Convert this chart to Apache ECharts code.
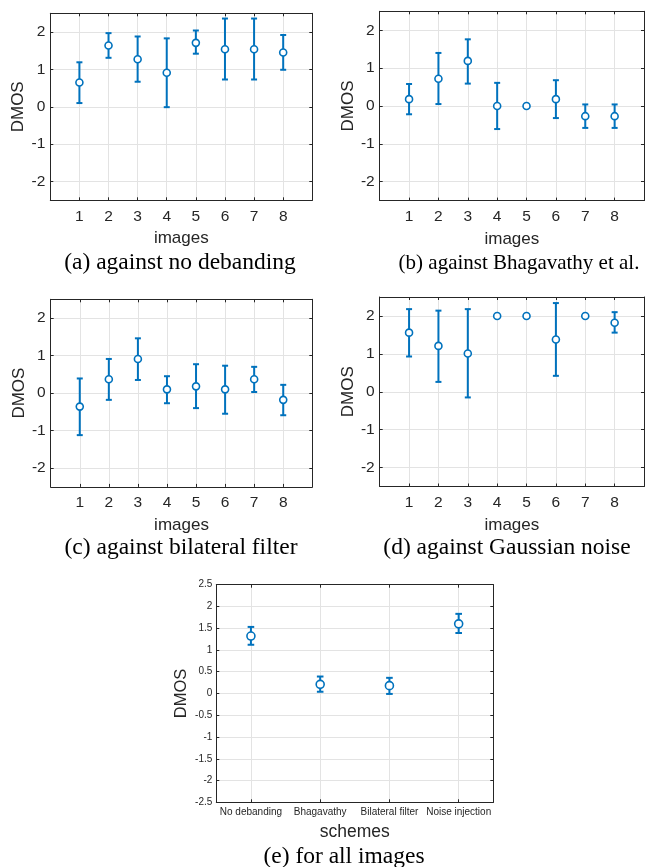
<!DOCTYPE html>
<html>
<head>
<meta charset="utf-8">
<script src="https://cdn.jsdelivr.net/npm/echarts@6/dist/echarts.min.js"></script>
<style>
  html, body { margin: 0; padding: 0; background: #ffffff; }
  #chart { width: 652px; height: 867px; }
</style>
</head>
<body>
<div id="chart"></div>
<script>
// Image indices used in the per-comparison panels
const imageIds = [1, 2, 3, 4, 5, 6, 7, 8];
const imageTicks = [1, 2, 3, 4, 5, 6, 7, 8];
const dmosTicks = [-2, -1, 0, 1, 2];

// (a) against no debanding: mean DMOS with lower / upper interval bounds
const meanNoDeband = [0.65, 1.64, 1.27, 0.91, 1.71, 1.54, 1.54, 1.45];
const lowNoDeband  = [0.10, 1.31, 0.67, -0.01, 1.42, 0.73, 0.73, 0.99];
const highNoDeband = [1.19, 1.97, 1.88, 1.83, 2.04, 2.36, 2.36, 1.92];

// (b) against Bhagavathy et al.
const meanBhag = [0.18, 0.72, 1.19, 0.00, 0.00, 0.18, -0.27, -0.27];
const lowBhag  = [-0.22, 0.05, 0.59, -0.61, 0.00, -0.32, -0.58, -0.58];
const highBhag = [0.58, 1.40, 1.76, 0.61, 0.00, 0.68, 0.04, 0.04];

// (c) against bilateral filter
const meanBilat = [-0.36, 0.37, 0.91, 0.10, 0.18, 0.10, 0.37, -0.18];
const lowBilat  = [-1.12, -0.18, 0.35, -0.27, -0.40, -0.55, 0.03, -0.59];
const highBilat = [0.39, 0.91, 1.46, 0.45, 0.77, 0.73, 0.70, 0.22];

// (d) against Gaussian noise
const meanGauss = [1.56, 1.21, 1.01, 2.00, 2.00, 1.38, 2.00, 1.82];
const lowGauss  = [0.93, 0.26, -0.15, 2.00, 2.00, 0.42, 2.00, 1.56];
const highGauss = [2.18, 2.14, 2.18, 2.00, 2.00, 2.34, 2.00, 2.10];

// (e) for all images, per scheme
const schemes = ['No debanding', 'Bhagavathy', 'Bilateral filter', 'Noise injection'];
const schemeIds = [1, 2, 3, 4];
const meanAll = [1.32, 0.21, 0.18, 1.60];
const lowAll  = [1.12, 0.04, -0.01, 1.39];
const highAll = [1.53, 0.39, 0.36, 1.83];

const BLUE = '#0072BD';
const INK = '#262626';
const GRIDLINE = '#e3e3e3';
const SANS = '"Liberation Sans", Arial, Helvetica, sans-serif';
const SERIF = '"Liberation Serif", "Times New Roman", serif';

function errorBars(capHalf) {
  return function (params, api) {
    const x = api.value(0);
    const lo = api.coord([x, api.value(1)]);
    const hi = api.coord([x, api.value(2)]);
    const style = { stroke: BLUE, lineWidth: 2, fill: null };
    return {
      type: 'group',
      children: [
        { type: 'line', shape: { x1: lo[0], y1: lo[1], x2: hi[0], y2: hi[1] }, style: style },
        { type: 'line', shape: { x1: lo[0] - capHalf, y1: lo[1], x2: lo[0] + capHalf, y2: lo[1] }, style: style },
        { type: 'line', shape: { x1: hi[0] - capHalf, y1: hi[1], x2: hi[0] + capHalf, y2: hi[1] }, style: style }
      ]
    };
  };
}

const grids = [], xAxes = [], yAxes = [], series = [], texts = [];

function addPanel(cfg) {
  const gi = grids.length;
  grids.push(Object.assign({ containLabel: false, show: false }, cfg.grid));

  const tick = { show: true, inside: true, length: 3, lineStyle: { color: INK, width: 1 } };
  const line = { show: true, onZero: false, lineStyle: { color: INK, width: 1 } };
  const split = { show: true, lineStyle: { color: GRIDLINE, width: 1 } };

  // bottom x axis
  xAxes.push({
    gridIndex: gi, type: 'value', position: 'bottom',
    min: cfg.xMin, max: cfg.xMax,
    axisLine: line,
    axisTick: Object.assign({ customValues: cfg.xTicks }, tick),
    splitLine: split,
    axisLabel: {
      customValues: cfg.xTicks, margin: cfg.xLabelMargin, color: INK,
      fontFamily: SANS, fontSize: cfg.tickFont,
      formatter: cfg.xFormatter
    },
    name: cfg.xName, nameLocation: 'middle', nameGap: cfg.xNameGap,
    nameTextStyle: { color: INK, fontFamily: SANS, fontSize: cfg.nameFontX }
  });
  // top x axis (box edge with inward ticks)
  xAxes.push({
    gridIndex: gi, type: 'value', position: 'top',
    min: cfg.xMin, max: cfg.xMax,
    axisLine: line,
    axisTick: Object.assign({ customValues: cfg.xTicks }, tick),
    splitLine: { show: false },
    axisLabel: { show: false }
  });
  // left y axis
  yAxes.push({
    gridIndex: gi, type: 'value', position: 'left',
    min: cfg.yMin, max: cfg.yMax,
    axisLine: line,
    axisTick: Object.assign({ customValues: cfg.yTicks }, tick),
    splitLine: split,
    axisLabel: {
      customValues: cfg.yTicks, margin: cfg.yLabelMargin, color: INK,
      fontFamily: SANS, fontSize: cfg.tickFont
    },
    name: 'DMOS', nameLocation: 'middle', nameGap: cfg.yNameGap, nameRotate: 90,
    nameTextStyle: { color: INK, fontFamily: SANS, fontSize: cfg.nameFontY }
  });
  // right y axis (box edge with inward ticks)
  yAxes.push({
    gridIndex: gi, type: 'value', position: 'right',
    min: cfg.yMin, max: cfg.yMax,
    axisLine: line,
    axisTick: Object.assign({ customValues: cfg.yTicks }, tick),
    splitLine: { show: false },
    axisLabel: { show: false }
  });

  const xi = gi * 2, yi = gi * 2;
  const barData = cfg.x.map((v, i) => [v, cfg.low[i], cfg.high[i]]);
  const ptData = cfg.x.map((v, i) => [v, cfg.mean[i]]);

  series.push({
    type: 'custom', xAxisIndex: xi, yAxisIndex: yi,
    renderItem: errorBars(cfg.capHalf),
    encode: { x: 0, y: [1, 2] },
    data: barData, z: 3, silent: true
  });
  series.push({
    type: 'scatter', xAxisIndex: xi, yAxisIndex: yi,
    symbol: 'circle', symbolSize: cfg.markerSize,
    itemStyle: { color: '#ffffff', borderColor: BLUE, borderWidth: 1.6, opacity: 1 },
    data: ptData, z: 4, silent: true
  });

  // subfigure caption below the panel
  texts.push({
    type: 'text', z: 10,
    x: cfg.caption[1], y: cfg.caption[2],
    style: {
      text: cfg.caption[0], fill: '#000000', font: cfg.caption[3] + 'px ' + SERIF,
      textAlign: 'center', textVerticalAlign: 'middle'
    }
  });
}

const imageFormatter = v => String(v);
const smallPanel = {
  x: imageIds, xMin: 0, xMax: 9, xTicks: imageTicks, xFormatter: imageFormatter,
  yMin: -2.5, yMax: 2.5, yTicks: dmosTicks,
  tickFont: 15.5, nameFontX: 17, nameFontY: 17,
  xLabelMargin: 8, yLabelMargin: 5, xNameGap: 30, yNameGap: 23,
  xName: 'images', capHalf: 3, markerSize: 7
};

addPanel(Object.assign({}, smallPanel, {
  grid: { left: 50.3, top: 13.3, width: 262, height: 187 },
  mean: meanNoDeband, low: lowNoDeband, high: highNoDeband,
  caption: ['(a) against no debanding', 180, 263, 23.5]
}));
addPanel(Object.assign({}, smallPanel, {
  grid: { left: 379.7, top: 11.3, width: 264.3, height: 189.3 },
  mean: meanBhag, low: lowBhag, high: highBhag,
  caption: ['(b) against Bhagavathy et al.', 519, 263, 21]
}));
addPanel(Object.assign({}, smallPanel, {
  grid: { left: 50.7, top: 299.3, width: 261.6, height: 187.6 },
  mean: meanBilat, low: lowBilat, high: highBilat,
  caption: ['(c) against bilateral filter', 181, 548, 23.5]
}));
addPanel(Object.assign({}, smallPanel, {
  grid: { left: 379.7, top: 297, width: 264.3, height: 189.5 },
  mean: meanGauss, low: lowGauss, high: highGauss,
  caption: ['(d) against Gaussian noise', 507, 548, 23.5]
}));

const dmosFineTicks = [-2.5, -2, -1.5, -1, -0.5, 0, 0.5, 1, 1.5, 2, 2.5];
addPanel({
  grid: { left: 216.3, top: 584.7, width: 277, height: 217.6 },
  x: schemeIds, xMin: 0.5, xMax: 4.5, xTicks: schemeIds,
  xFormatter: v => schemes[schemeIds.indexOf(v)] || '',
  yMin: -2.5, yMax: 2.5, yTicks: dmosFineTicks,
  tickFont: 10, nameFontX: 17.5, nameFontY: 16.5,
  xLabelMargin: 5, yLabelMargin: 4, xNameGap: 21, yNameGap: 26,
  xName: 'schemes', capHalf: 3.3, markerSize: 8,
  mean: meanAll, low: lowAll, high: highAll,
  caption: ['(e) for all images', 344, 857, 23.5]
});

const chart = echarts.init(document.getElementById('chart'), null, { renderer: 'canvas' });
chart.setOption({
  animation: false,
  backgroundColor: '#ffffff',
  grid: grids,
  xAxis: xAxes,
  yAxis: yAxes,
  series: series,
  graphic: { elements: texts }
});
</script>
</body>
</html>
